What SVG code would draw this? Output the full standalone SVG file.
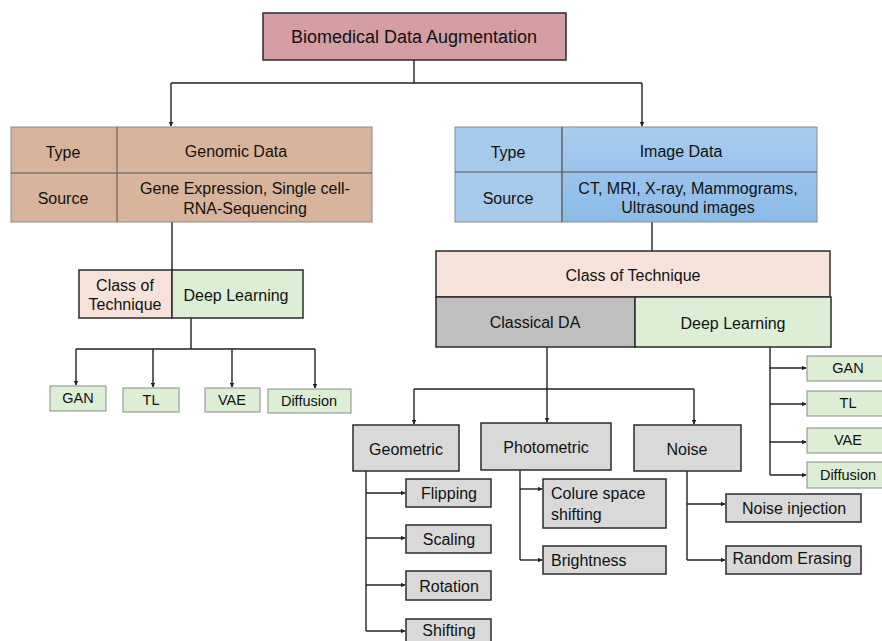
<svg xmlns="http://www.w3.org/2000/svg" width="882" height="641" viewBox="0 0 882 641">
<defs>
<marker id="ah" viewBox="0 0 10 10" refX="9" refY="5" markerWidth="5" markerHeight="5" orient="auto" markerUnits="userSpaceOnUse"><path d="M0,0 L10,5 L0,10 z" fill="#222"/></marker>
<linearGradient id="blue" x1="0" y1="0" x2="0" y2="1"><stop offset="0" stop-color="#a8ccef"/><stop offset="1" stop-color="#8bbbe6"/></linearGradient>
<style>
text{font-family:"Liberation Sans",Arial,sans-serif;font-size:16px;fill:#111;text-anchor:middle;dominant-baseline:central}
.sm{font-size:14.5px}
.l{text-anchor:start}
.dark{stroke:#2b2b2b;stroke-width:1.5}
.thin{stroke:#8a8a8a;stroke-width:1}
.con{fill:none;stroke:#222;stroke-width:1.4}
.arr{fill:none;stroke:#222;stroke-width:1.4;marker-end:url(#ah)}
.green{fill:#dcefd4}
.gray{fill:#d9d9d9}
.peach{fill:#f6e2d8}
</style>
</defs>
<rect width="882" height="641" fill="#fff"/>

<g id="connectors">
<path class="con" d="M414,60 V83 M171,83 H642"/>
<path class="arr" d="M171,83 V126"/>
<path class="arr" d="M642,83 V126"/>
<path class="con" d="M172,222 V270"/>
<path class="con" d="M191,318 V349 M76,349 H315"/>
<path class="arr" d="M76,349 V385"/>
<path class="arr" d="M153,349 V387"/>
<path class="arr" d="M232,349 V387"/>
<path class="arr" d="M315,349 V388"/>
<path class="con" d="M652,222 V251"/>
<path class="con" d="M547,347 V389 M414,389 H694"/>
<path class="arr" d="M414,389 V424"/>
<path class="arr" d="M547,389 V422"/>
<path class="arr" d="M694,389 V424"/>
<path class="con" d="M770,347 V475"/>
<path class="arr" d="M770,368 H806"/>
<path class="arr" d="M770,404 H806"/>
<path class="arr" d="M770,442 H806"/>
<path class="arr" d="M770,475 H806"/>
<path class="con" d="M366,471 V631"/>
<path class="arr" d="M366,493 H405"/>
<path class="arr" d="M366,538 H405"/>
<path class="arr" d="M366,585 H405"/>
<path class="arr" d="M366,631 H405"/>
<path class="con" d="M520,470 V560"/>
<path class="arr" d="M520,489 H542"/>
<path class="arr" d="M520,560 H542"/>
<path class="con" d="M687,471 V560"/>
<path class="arr" d="M687,504 H725"/>
<path class="arr" d="M687,560 H725"/>
</g>

<g id="root">
<rect x="263" y="13" width="303" height="47" fill="#d49ea3" class="dark"/>
<text x="414" y="37" style="font-size:18px">Biomedical Data Augmentation</text>
</g>

<g id="genomic">
<rect x="11" y="127" width="361" height="95" fill="#d9b49d" class="thin"/>
<path d="M117,127 V222 M11,173 H372" stroke="#555" stroke-width="1"/>
<text x="63" y="152">Type</text>
<text x="63" y="198">Source</text>
<text x="236" y="151">Genomic Data</text>
<text x="245" y="188">Gene Expression, Single cell-</text>
<text x="245" y="208">RNA-Sequencing</text>
</g>

<g id="class-left">
<rect x="79" y="270" width="93" height="48" class="peach dark"/>
<rect x="172" y="270" width="131" height="48" class="green dark"/>
<text x="125" y="285">Class of</text>
<text x="125" y="304">Technique</text>
<text x="236" y="295">Deep Learning</text>
</g>

<g id="gan-left"><rect x="50" y="386" width="56" height="25" class="green thin"/><text class="sm" x="78" y="398">GAN</text></g>
<g id="tl-left"><rect x="123" y="388" width="56" height="24" class="green thin"/><text class="sm" x="151" y="400">TL</text></g>
<g id="vae-left"><rect x="205" y="388" width="55" height="24" class="green thin"/><text class="sm" x="232" y="400">VAE</text></g>
<g id="diffusion-left"><rect x="268" y="389" width="83" height="24" class="green thin"/><text class="sm" x="309" y="401">Diffusion</text></g>

<g id="image">
<rect x="455" y="127" width="107" height="95" fill="#a6caec" class="thin"/>
<rect x="562" y="127" width="255" height="95" fill="url(#blue)" class="thin"/>
<path d="M562,127 V222 M455,172 H817" stroke="#555" stroke-width="1"/>
<text x="508" y="152">Type</text>
<text x="508" y="198">Source</text>
<text x="681" y="151">Image Data</text>
<text x="688" y="188">CT, MRI, X-ray, Mammograms,</text>
<text x="688" y="207">Ultrasound images</text>
</g>

<g id="class-right">
<rect x="436" y="251" width="394" height="46" class="peach dark"/>
<text x="633" y="275">Class of Technique</text>
</g>
<g id="classical-da">
<rect x="436" y="297" width="199" height="50" fill="#bfbfbf" class="dark"/>
<text x="535" y="322">Classical DA</text>
</g>
<g id="deep-learning-right">
<rect x="635" y="297" width="196" height="50" class="green dark"/>
<text x="733" y="323">Deep Learning</text>
</g>

<g id="gan-right"><rect x="807" y="356" width="80" height="25" class="green thin"/><text class="sm" x="848" y="368">GAN</text></g>
<g id="tl-right"><rect x="807" y="391" width="80" height="25" class="green thin"/><text class="sm" x="848" y="403">TL</text></g>
<g id="vae-right"><rect x="807" y="428" width="80" height="25" class="green thin"/><text class="sm" x="848" y="440">VAE</text></g>
<g id="diffusion-right"><rect x="807" y="462" width="80" height="26" class="green thin"/><text class="sm" x="848" y="475">Diffusion</text></g>

<g id="geometric"><rect x="353" y="425" width="106" height="46" class="gray dark"/><text x="406" y="449">Geometric</text></g>
<g id="photometric"><rect x="481" y="423" width="130" height="47" class="gray dark"/><text x="546" y="447">Photometric</text></g>
<g id="noise"><rect x="634" y="425" width="107" height="46" class="gray dark"/><text x="687" y="449">Noise</text></g>

<g id="flipping"><rect x="406" y="479" width="85" height="28" class="gray dark"/><text x="449" y="493">Flipping</text></g>
<g id="scaling"><rect x="406" y="525" width="85" height="28" class="gray dark"/><text x="449" y="539">Scaling</text></g>
<g id="rotation"><rect x="406" y="571" width="85" height="29" class="gray dark"/><text x="449" y="586">Rotation</text></g>
<g id="shifting"><rect x="406" y="619" width="85" height="30" class="gray dark"/><text x="449" y="630">Shifting</text></g>

<g id="colure"><rect x="543" y="479" width="123" height="49" class="gray dark"/><text class="l" x="551" y="493">Colure space</text><text class="l" x="551" y="514">shifting</text></g>
<g id="brightness"><rect x="543" y="546" width="123" height="28" class="gray dark"/><text class="l" x="551" y="560">Brightness</text></g>

<g id="noise-injection"><rect x="726" y="494" width="135" height="28" class="gray dark"/><text x="794" y="508">Noise injection</text></g>
<g id="random-erasing"><rect x="726" y="546" width="135" height="28" class="gray dark"/><text x="792" y="558">Random Erasing</text></g>
</svg>
